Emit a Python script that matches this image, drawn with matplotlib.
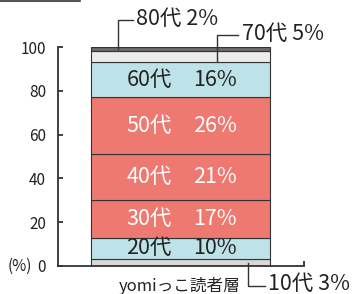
import matplotlib.pyplot as plt

plt.rcParams['font.family'] = ['Noto Sans CJK JP', 'DejaVu Sans']

# ── Data ─────────────────────────────────────────────────────────────
ages = ['10代', '20代', '30代', '40代', '50代', '60代', '70代', '80代']
shares = [3, 10, 17, 21, 26, 16, 5, 2]
colors = ['#d9d9d9', '#bde2e7', '#ee7970', '#ee7970', '#ee7970',
          '#bde2e7', '#ececec', '#6b6b6b']
text_colors = ['#222222', '#222222', 'white', 'white', 'white',
               '#222222', '#222222', '#222222']
inside = [False, True, True, True, True, True, False, False]
category = 'yomiっこ読者層'
yticks = [0, 20, 40, 60, 80, 100]

dark = '#333333'

fig = plt.figure(figsize=(3.55, 2.94), dpi=100)
W, H = 355, 294
ax = fig.add_axes([58 / W, (H - 266) / H, (304 - 58) / W, (266 - 47) / H])
ax.set_xlim(0, 1)
ax.set_ylim(0, 100)

bar_x, bar_w = 0.498, 0.728
bottom = 0
mids = []
for age, v, c, tc, ins in zip(ages, shares, colors, text_colors, inside):
    ax.bar(bar_x, v, bar_w, bottom=bottom, color=c, edgecolor=dark,
           linewidth=0.8)
    mid = bottom + v / 2
    mids.append(mid)
    if ins:
        ax.text(0.370, mid, age, ha='center', va='center', fontsize=15.5,
                color=tc)
        ax.text(0.638, mid, f'{v}%', ha='center', va='center',
                fontsize=15.5, color=tc)
    bottom += v

# leader labels for the thin segments
def leader(xs, ys, label, tx, ty):
    ax.plot(xs, ys, color=dark, lw=1.0, clip_on=False,
            solid_joinstyle='miter')
    ax.text(tx, ty, label, ha='left', va='center', fontsize=15.5,
            color='#222222', clip_on=False)

m10, m70, m80 = mids[0], mids[6], mids[7]
leader([0.244, 0.244, 0.305], [m80, 112.3, 112.3],
       f'{ages[7]} {shares[7]}%', 0.317, 112.8)
leader([0.646, 0.646, 0.732], [m70 - 2, 105.5, 105.5],
       f'{ages[6]} {shares[6]}%', 0.748, 106.0)
leader([0.772, 0.772, 0.841], [m10, -9.1, -9.1],
       f'{ages[0]} {shares[0]}%', 0.854, -8.0)

# axes styling
for s in ['top', 'right']:
    ax.spines[s].set_visible(False)
for s in ['left', 'bottom']:
    ax.spines[s].set_color(dark)
    ax.spines[s].set_linewidth(1.3)
ax.set_yticks(yticks)
ax.set_yticklabels([str(t) for t in yticks])
ax.tick_params(axis='y', direction='in', length=3.5, width=1.3,
               color=dark, pad=8.5, labelsize=11, labelcolor='#222222')
ax.set_xticks([1.0])
ax.set_xticklabels([''])
ax.tick_params(axis='x', direction='in', length=3.5, width=1.3, color=dark)

ax.text(-0.205, 0, '(%)', ha='left', va='center', fontsize=11,
        color='#222222', clip_on=False)
ax.text(0.496, -9.0, category, ha='center', va='center', fontsize=12,
        color='#222222', clip_on=False)

# thin rule at the top-left corner of the panel
fig.add_artist(plt.Line2D([0, 80 / W], [1 - 1 / H, 1 - 1 / H],
                          color=dark, lw=1.2))

fig.savefig('out.png', dpi=100)
